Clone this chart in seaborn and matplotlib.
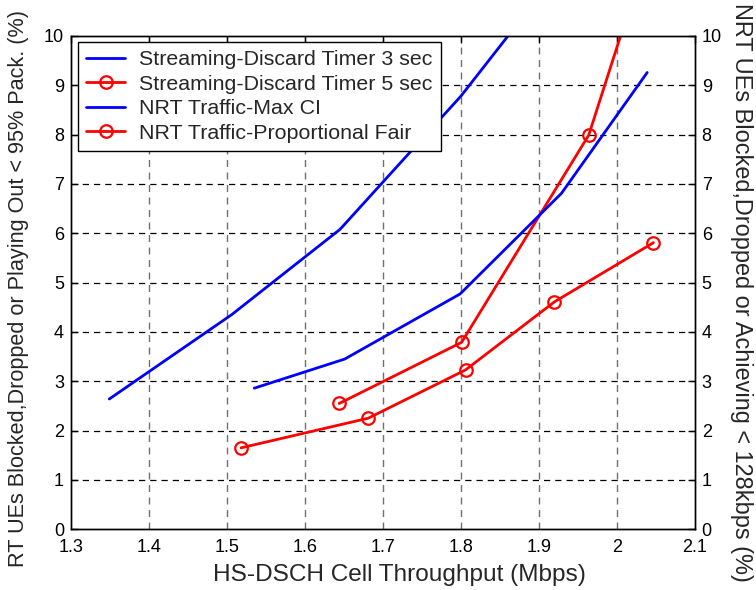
import numpy as np
import pandas as pd
import matplotlib
matplotlib.use("Agg")
import matplotlib.pyplot as plt
import seaborn as sns

# --- data ---
rt3_x = [1.349, 1.506, 1.645, 1.800, 1.900]
rt3_y = [2.64, 4.35, 6.08, 8.78, 10.80]

rt5_x = [1.644, 1.801, 1.964, 2.020]
rt5_y = [2.55, 3.79, 7.99, 10.75]

maxci_x = [1.535, 1.651, 1.799, 1.929, 2.039]
maxci_y = [2.86, 3.45, 4.77, 6.81, 9.26]

pf_x = [1.518, 1.681, 1.806, 1.920, 2.047]
pf_y = [1.65, 2.25, 3.23, 4.61, 5.81]

labels = ["Streaming-Discard Timer 3 sec", "Streaming-Discard Timer 5 sec",
          "NRT Traffic-Max CI", "NRT Traffic-Proportional Fair"]
x_ticks = [1.3, 1.4, 1.5, 1.6, 1.7, 1.8, 1.9, 2.0, 2.1]
x_ticklabels = ["1.3", "1.4", "1.5", "1.6", "1.7", "1.8", "1.9", "2", "2.1"]
y_ticks = list(range(0, 11))

sns.set_theme(style="white")
plt.rcParams["font.family"] = ["Liberation Sans", "DejaVu Sans"]
plt.rcParams["axes.edgecolor"] = "black"
plt.rcParams["axes.linewidth"] = 1.0

fig, ax = plt.subplots(figsize=(7.56, 5.9), dpi=100)
fig.subplots_adjust(left=0.094, right=0.919, top=0.939, bottom=0.103)

# last point of the top two series lies above the axes, gets clipped
series = [
    (rt3_x, rt3_y, "blue", None),
    (rt5_x, rt5_y, "red", "o"),
    (maxci_x, maxci_y, "blue", None),
    (pf_x, pf_y, "red", "o"),
]
handles = []
for (xs, ys, col, mk), lab in zip(series, labels):
    df = pd.DataFrame({"x": xs, "y": ys})
    kw = dict(data=df, x="x", y="y", ax=ax, color=col, lw=2.0,
              sort=False, estimator=None, label=lab)
    if mk:
        kw.update(marker=mk, markersize=9, mfc="none", mec=col, mew=1.6)
    sns.lineplot(**kw)
    handles.append(ax.lines[-1])

ax.set_xlim(1.3, 2.1)
ax.set_ylim(0, 10)
ax.set_xticks(x_ticks)
ax.set_xticklabels(x_ticklabels)
ax.set_yticks(y_ticks)

# MATLAB-ish grid: gray dashed verticals, black dashed horizontals
for xv in x_ticks[1:-1]:
    ax.axvline(xv, color="#707070", lw=1.0, ls=(0, (5, 4)), zorder=0)
for yv in y_ticks[1:-1]:
    ax.axhline(yv, color="black", lw=0.9, ls=(0, (5, 4)), zorder=0)

ax.tick_params(axis="both", direction="in", length=5, width=1, labelsize=13,
               colors="black", pad=5, top=True)
ax.tick_params(axis="x", pad=7)
ax.tick_params(axis="y", right=False)

ax.set_xlabel("HS-DSCH Cell Throughput (Mbps)", fontsize=17.6)
ax.xaxis.set_label_coords(0.527, -0.093)
ax.xaxis.label.set_va("center")
ax.set_ylabel("RT UEs Blocked,Dropped or Playing Out < 95% Pack. (%)", fontsize=15.6)
ax.yaxis.set_label_coords(-0.085, 0.489)
ax.yaxis.label.set_va("center")

ax2 = ax.twinx()
ax2.set_ylim(0, 10)
ax2.set_yticks(y_ticks)
ax2.tick_params(axis="y", direction="in", length=5, width=1, labelsize=13,
                colors="black", pad=5)
ax2.set_ylabel("NRT UEs Blocked,Dropped or Achieving < 128kbps (%)",
               fontsize=16.9, rotation=270)
ax2.yaxis.set_label_coords(1.075, 0.481)
ax2.yaxis.label.set_va("center")
for sp in ax2.spines.values():
    sp.set_edgecolor("black")

if ax.get_legend() is not None:
    ax.get_legend().remove()
leg = ax2.legend(handles, labels, loc="upper left", bbox_to_anchor=(0.011, 0.988),
                 borderaxespad=0, fontsize=15.4, frameon=True, fancybox=False,
                 edgecolor="black", framealpha=1, handlelength=1.8,
                 handletextpad=0.65, labelspacing=0.25, borderpad=0.4)
leg.get_frame().set_linewidth(1.0)

fig.savefig("out.png", dpi=100)
